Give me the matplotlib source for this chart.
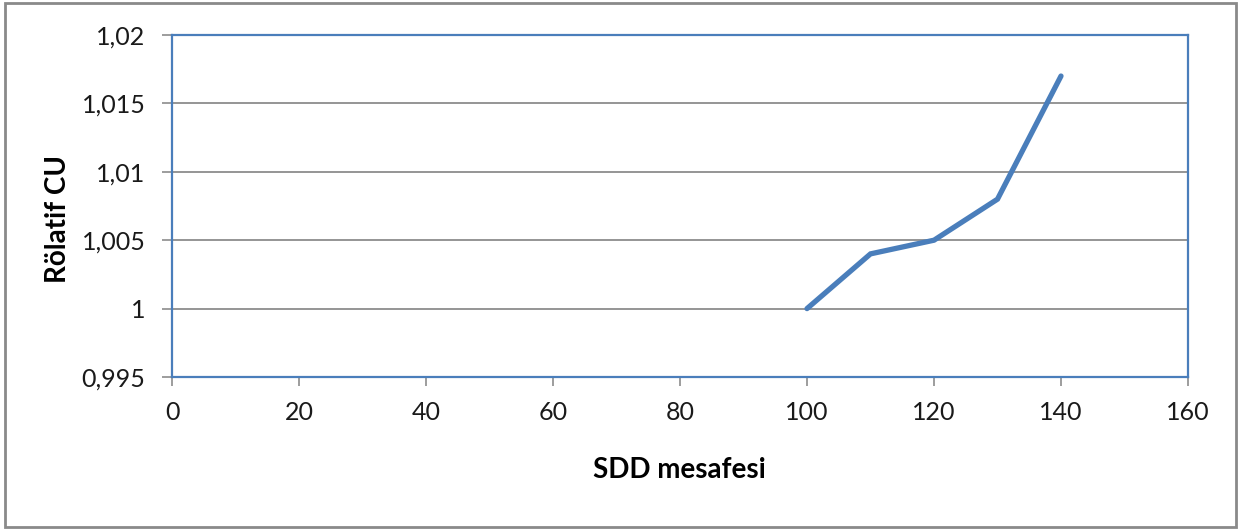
import matplotlib
matplotlib.use("Agg")
import matplotlib.pyplot as plt
from matplotlib.patches import Rectangle
from matplotlib.ticker import FuncFormatter

# SDD distance vs relative CU
sdd = [100, 110, 120, 130, 140]
relative_cu = [1.000, 1.004, 1.005, 1.008, 1.017]
x_ticks = [0, 20, 40, 60, 80, 100, 120, 140, 160]
y_ticks = [0.995, 1.0, 1.005, 1.01, 1.015, 1.02]

plt.rcParams['font.family'] = ['Lato', 'DejaVu Sans']

W, H = 1246, 529
fig = plt.figure(figsize=(W / 100, H / 100), dpi=100)
ax = fig.add_axes([172 / W, 1 - 377 / H, (1188 - 172) / W, (377 - 35) / H])

blue_frame = '#4a7ebb'
grid_gray = '#8c8c8c'

ax.plot(sdd, relative_cu, color='#4a7ebb', lw=3.8, solid_capstyle='round',
        solid_joinstyle='miter', zorder=3)

ax.set_xlim(0, 160)
ax.set_ylim(0.995, 1.02)
ax.set_xticks(x_ticks)
ax.set_yticks(y_ticks)

def comma_fmt(v, pos):
    s = f"{v:.3f}".rstrip('0').rstrip('.')
    return s.replace('.', ',')

ax.yaxis.set_major_formatter(FuncFormatter(comma_fmt))
ax.xaxis.set_major_formatter(FuncFormatter(lambda v, p: f"{int(v)}"))

ax.grid(axis='y', color=grid_gray, lw=1.3)
ax.set_axisbelow(True)
for s in ax.spines.values():
    s.set_color(blue_frame)
    s.set_linewidth(1.6)

ax.tick_params(axis='both', direction='out', width=1.2, color=grid_gray,
               labelsize=18, labelcolor='#1a1a1a')
ax.tick_params(axis='x', length=6.5, pad=11)
ax.tick_params(axis='y', length=7, pad=12)

# axis titles
fig.text(679 / W, 1 - 470 / H, 'SDD mesafesi', fontsize=20, fontweight='bold',
         ha='center', va='center')
fig.text(58 / W, 1 - 219 / H, 'Rölatif CU', fontsize=20, fontweight='bold',
         ha='center', va='center', rotation=90)

# chart outer border
fig.patches.append(Rectangle((5 / W, 2 / H), 1231 / W, 524 / H, transform=fig.transFigure,
                             fill=False, edgecolor='#8a8a8a', lw=2))

fig.savefig('out.png', dpi=100)
